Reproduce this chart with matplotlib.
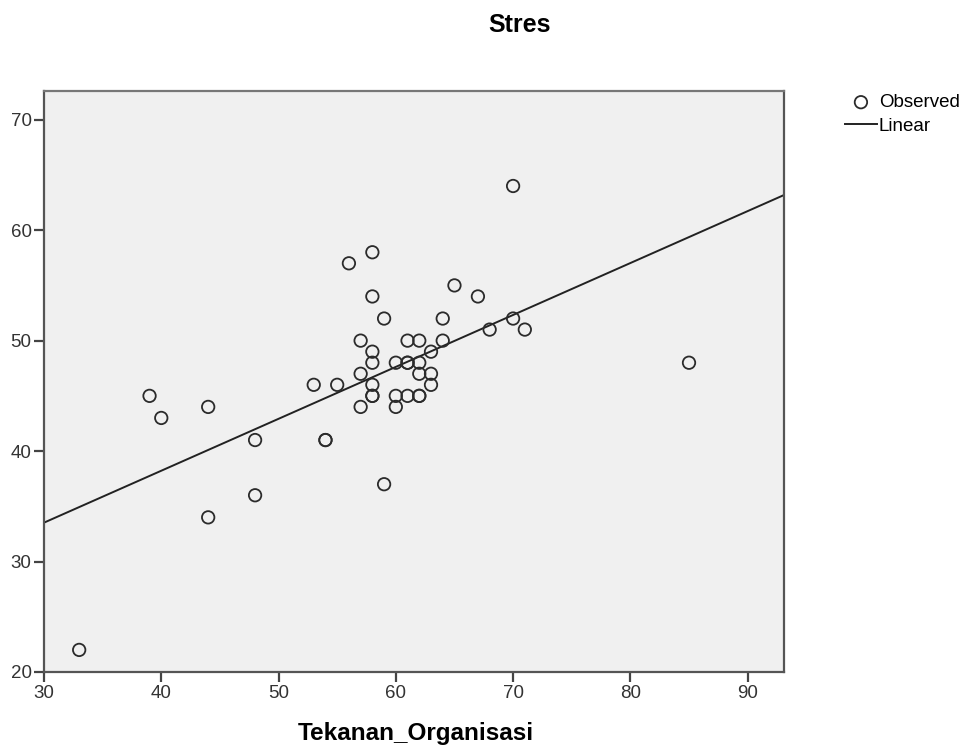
import numpy as np
import matplotlib
matplotlib.use("Agg")
import matplotlib.pyplot as plt

# Tekanan_Organisasi vs Stres
tekanan = [33, 39, 40, 44, 44, 48, 48, 53, 54, 54, 55, 56, 57, 57, 57,
           58, 58, 58, 58, 58, 58, 58, 59, 59, 60, 60, 60, 61, 61, 61, 61,
           62, 62, 62, 62, 62, 63, 63, 63, 64, 64, 65, 67, 68, 70, 70, 71, 85]
stres = [22, 45, 43, 44, 34, 41, 36, 46, 41, 41, 46, 57, 50, 47, 44,
         58, 54, 49, 48, 46, 45, 45, 52, 37, 48, 45, 44, 50, 48, 48, 45,
         50, 48, 47, 45, 45, 49, 47, 46, 52, 50, 55, 54, 51, 64, 52, 51, 48]

x_ticks = [30, 40, 50, 60, 70, 80, 90]
y_ticks = [20, 30, 40, 50, 60, 70]

plt.rcParams['font.family'] = ['Liberation Sans', 'DejaVu Sans']

fig = plt.figure(figsize=(9.68, 7.53), dpi=100)
ax = fig.add_axes([44 / 968, 1 - 672 / 753, 740 / 968, 581 / 753])
ax.set_facecolor('#f0f0f0')

# linear fit, like SPSS "Linear" model
slope, intercept = np.polyfit(tekanan, stres, 1)
xmin, xmax = 30, 93.1
xs = np.array([xmin, xmax])

ax.scatter(tekanan, stres, s=80, facecolors='none', edgecolors='#2b2b2b',
           linewidths=1.3, zorder=3, label='Observed')
ax.plot(xs, intercept + slope * xs, color='#222222', linewidth=1.4,
        zorder=2, label='Linear')

ax.set_xlim(xmin, xmax)
ax.set_ylim(20, 72.6)
ax.set_xticks(x_ticks)
ax.set_yticks(y_ticks)
ax.tick_params(direction='out', length=7, width=1.6, color='#444444',
               labelsize=13.5, labelcolor='#333333', pad=2)
for side in ['left', 'bottom', 'right', 'top']:
    ax.spines[side].set_color('#555555')
    ax.spines[side].set_linewidth(1.6)
ax.spines['top'].set_color('#777777')

ax.set_xlabel('Tekanan_Organisasi', fontsize=17.5, fontweight='bold')
ax.xaxis.set_label_coords(416 / 968, 13 / 753, transform=fig.transFigure)
ax.xaxis.label.set_verticalalignment('baseline')
fig.text(520 / 968, 1 - 25 / 753, 'Stres', fontsize=18, fontweight='bold',
         ha='center', va='center')

ax.legend(loc='upper left', bbox_to_anchor=(845 / 968, 1 - 94 / 753),
          bbox_transform=fig.transFigure, frameon=False, fontsize=13.5,
          handlelength=1.7, handletextpad=0.1, labelspacing=0.35,
          borderpad=0, borderaxespad=0)

plt.savefig('out.png', dpi=100)
